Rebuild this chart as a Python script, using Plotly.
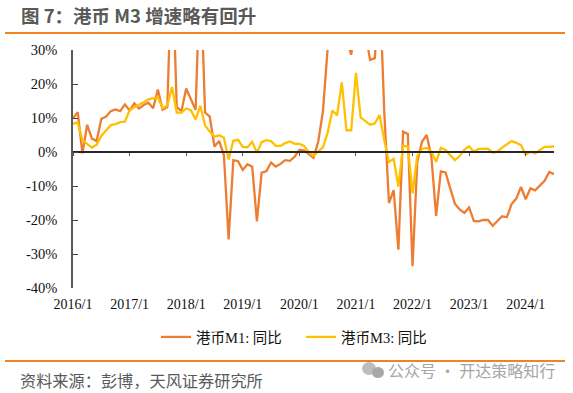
import plotly.graph_objects as go

W, H = 573, 393
months = [f"{2016 + i // 12}/{i % 12 + 1}" for i in range(103)]
tick_labels = [f"{y}/1" for y in range(2016, 2025)]
y_ticks = [30, 20, 10, 0, -10, -20, -30, -40]
y_labels = ["30%", "20%", "10%", "0%", "-10%", "-20%", "-30%", "-40%"]

m1 = [9.9, 11.7, -0.4, 8, 4, 3.2, 9.7, 10.4, 12, 12.5, 12, 14,
      12.2, 14.3, 12.8, 13.8, 14.5, 12.9, 18.4, 12.4, 13.2, 58, 13.2, 12,
      18.7, 15.3, 12.4, 55, 11.6, 10.4, 1.6, 3.2, -0.9, -25.7, -2.4, -2.7,
      -5.3, -3.6, -4.3, -20.4, -6.1, -5.7, -3.1, -4.3, -3.5, -2.4, -2.6, -1.4,
      0.6, 0.5, -0.6, -1.7, 3, 11.9, 30.5, 45, 42, 38, 33, 28.6,
      40, 42, 35, 27.1, 27.6, 50, 12, -15, -11.2, -28.7, 6, 5.3,
      -33.6, -3, 3, 5, -1.4, -18.8, -5.7, -6, -10.7, -15.3, -16.9, -17.9,
      -16.3, -20.3, -20.4, -20, -20, -21.7, -20.3, -18.9, -19.2, -15.3, -13.7, -10.3,
      -13.9, -10.7, -11.3, -9.8, -8.5, -5.9, -6.5]
m3 = [8.3, 8.7, 3.5, 2.4, 1.3, 2.1, 4.7, 6.3, 7.9, 8.2, 8.8, 8.9,
      12.2, 13.2, 13.8, 14.6, 15.5, 15.9, 16.1, 12.9, 13.6, 19.1, 11.6, 11.6,
      12.8, 12.3, 9.6, 13.6, 7.8, 6, 4.5, 4.9, 4.2, -2.2, 3.3, 3.6,
      1.5, 1.4, 3, -0.2, 2.9, 3.5, 3.2, 1.8, 1.8, 2.6, 3.1, 2.4,
      2.4, 1.8, 0, -1.1, 0.1, 1.4, 5.7, 12.2, 10.8, 20.5, 6.4, 6.4,
      23.3, 10.2, 9.1, 8, 8.4, 10.9, 3.5, -2.9, -2, -10.2, 1.8, 1.6,
      -12.2, -1.2, 0.9, 1.2, 0.1, -2.9, 1.2, 0.6, -1, -2.4, -1.2, 0.7,
      1.7, 0.1, 0.9, 1, 1, -0.2, 0.1, 1.3, 2.3, 3.2, 2.7, 2,
      -0.8, 0.1, -0.4, 0.6, 1.5, 1.5, 1.7]

SERIF = "Liberation Serif, Noto Sans CJK SC"
CJK = "Noto Sans CJK SC"
x_ticks = [months[i] for i in range(0, 103, 12)]

fig = go.Figure()
fig.add_trace(go.Scatter(x=months, y=m1, mode="lines", name="港币M1: 同比",
                         line=dict(color="#ED7D31", width=2.3), hoverinfo="skip"))
fig.add_trace(go.Scatter(x=months, y=m3, mode="lines", name="港币M3: 同比",
                         line=dict(color="#FFC000", width=2.3), hoverinfo="skip"))
fig.add_trace(go.Scatter(x=months, y=[None] * len(months), xaxis="x2", showlegend=False,
                         mode="lines", hoverinfo="skip"))

def px_x(p): return p / W
def px_y(p): return 1 - p / H

y0, y1 = -40, 30
dom = [px_y(288), px_y(50)]
fig.update_layout(
    template="none",
    width=W, height=H, margin=dict(l=0, r=0, t=0, b=0, autoexpand=False),
    paper_bgcolor="white", plot_bgcolor="white", showlegend=True,
    xaxis=dict(domain=[px_x(73), px_x(554)], type="category", categoryorder="array",
               categoryarray=months, range=[0, 102], anchor="free", automargin=False,
               position=dom[0] + (dom[1] - dom[0]) * (0 - y0) / (y1 - y0),
               showgrid=False, zeroline=False, showline=True, linecolor="#262626", linewidth=1.5,
               tickmode="array", tickvals=x_ticks, ticktext=tick_labels,
               ticks="outside", ticklen=3, tickwidth=1, tickcolor="#595959",
               showticklabels=False),
    xaxis2=dict(domain=[px_x(73), px_x(554)], type="category", categoryorder="array",
                categoryarray=months, range=[0, 102], overlaying="x", anchor="y", side="bottom",
                automargin=False, showgrid=False, zeroline=False, showline=False,
                tickmode="array", tickvals=x_ticks, ticktext=tick_labels, ticks="",
                ticklabelstandoff=6, tickangle=0,
                tickfont=dict(family=SERIF, size=14, color="#111111")),
    yaxis=dict(domain=dom, range=[y0, y1], showgrid=False, zeroline=False, automargin=False,
               showline=True, linecolor="#595959", linewidth=1.5,
               tickmode="array", tickvals=y_ticks, ticktext=y_labels,
               ticks="inside", ticklen=5, tickwidth=1, tickcolor="#404040",
               ticklabelstandoff=11,
               tickfont=dict(family=SERIF, size=14.5, color="#111111")),
    legend=dict(orientation="h", x=px_x(156), y=px_y(337), xanchor="left", yanchor="middle",
                entrywidth=100, entrywidthmode="pixels", itemwidth=30,
                font=dict(family=SERIF, size=14.5, color="#111111"),
                bgcolor="rgba(0,0,0,0)"),
    shapes=[
        dict(type="line", xref="paper", yref="paper", x0=px_x(5), x1=px_x(565), y0=px_y(33), y1=px_y(33),
             line=dict(color="#F58220", width=2)),
        dict(type="line", xref="paper", yref="paper", x0=px_x(5), x1=px_x(565), y0=px_y(361), y1=px_y(361),
             line=dict(color="#F58220", width=2)),
        dict(type="circle", xref="paper", yref="paper", x0=px_x(362), x1=px_x(376), y0=px_y(375), y1=px_y(362),
             fillcolor="#BDBDBD", line=dict(width=0)),
        dict(type="circle", xref="paper", yref="paper", x0=px_x(372), x1=px_x(384), y0=px_y(378), y1=px_y(367),
             fillcolor="#A8A8A8", line=dict(width=0)),
    ],
    annotations=[
        dict(text="<b>图 7：港币 M3 增速略有回升</b>", xref="paper", yref="paper", x=px_x(19), y=px_y(15),
             xanchor="left", yanchor="middle", showarrow=False,
             font=dict(family=CJK, size=18.5, color="#595959")),
        dict(text="资料来源：彭博，天风证券研究所", xref="paper", yref="paper", x=px_x(18), y=px_y(380),
             xanchor="left", yanchor="middle", showarrow=False,
             font=dict(family=CJK, size=16.2, color="#595959")),
        dict(text="公众号 · 开达策略知行", xref="paper", yref="paper", x=px_x(386), y=px_y(370),
             xanchor="left", yanchor="middle", showarrow=False,
             font=dict(family=CJK, size=16, color="#A6A6A6")),
    ],
)
fig.write_html("out.html", config={"displayModeBar": False},
               post_script="document.body.style.margin='0';")
